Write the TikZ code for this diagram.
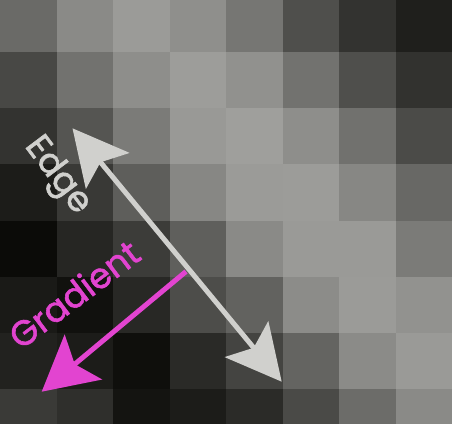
\documentclass[tikz,border=0pt]{standalone}
\usepackage{fontspec}
\setmainfont{Poppins}
\newfontfamily\arrowfont[FakeBold=1.6]{Poppins}
\usetikzlibrary{arrows.meta}
\definecolor{EdgeGray}{RGB}{208,208,205}
\definecolor{GradMagenta}{RGB}{226,68,208}
\tikzset{
  edgearrow/.style={{Stealth[length=55pt,width=56pt,inset=11pt]}-{Stealth[length=55pt,width=56pt,inset=11pt]},
    line width=5pt, draw=EdgeGray},
  gradarrow/.style={-{Stealth[length=54pt,width=58pt,inset=11pt]}, line width=5pt, draw=GradMagenta},
  arrowtext/.style={font=\arrowfont\fontsize{35}{40}\selectfont, inner sep=0pt}
}

\begin{document}
\begin{tikzpicture}[x=1pt, y=-1pt]
  \useasboundingbox (0,0) rectangle (452,423);
  % pixel grid
  \begin{scope}
    \clip (0,0) rectangle (452,423);
    \foreach \row [count=\r from 0] in {
        {106,138,155,143,118,79,51,31},
        {72,114,142,157,145,114,79,50},
        {51,85,123,153,159,142,113,75},
        {28,57,94,135,155,156,135,104},
        {11,38,60,95,138,154,154,123},
        {26,17,40,77,98,140,155,146},
        {34,28,15,42,68,100,139,154},
        {58,47,20,28,43,74,108,138}} {
      \foreach \v [count=\c from 0] in \row {
        \pgfmathtruncatemacro\bl{max(\v-3,0)}
        \definecolor{cellcolor}{RGB}{\v,\v,\bl}
        \fill[cellcolor] (\c*56.5, -4.2+\r*56.2) rectangle ++(57,56.7);
      }
    }
  \end{scope}
  % arrows
  \coordinate (edgetop) at (72.5,128.3);
  \coordinate (edgebot) at (281.7,381.7);
  \coordinate (gradstart) at (186,271.5);
  \coordinate (gradtip) at (41.7,391.7);
  \draw[edgearrow] (edgetop) -- (edgebot);
  \draw[gradarrow] (gradstart) -- (gradtip);
  % labels
  \node[arrowtext, text=EdgeGray, rotate=-53] (edgelabel) at (57,176) {Edge};
  \node[arrowtext, text=GradMagenta, rotate=37] (gradlabel) at (74,294) {Gradient};
\end{tikzpicture}
\end{document}
